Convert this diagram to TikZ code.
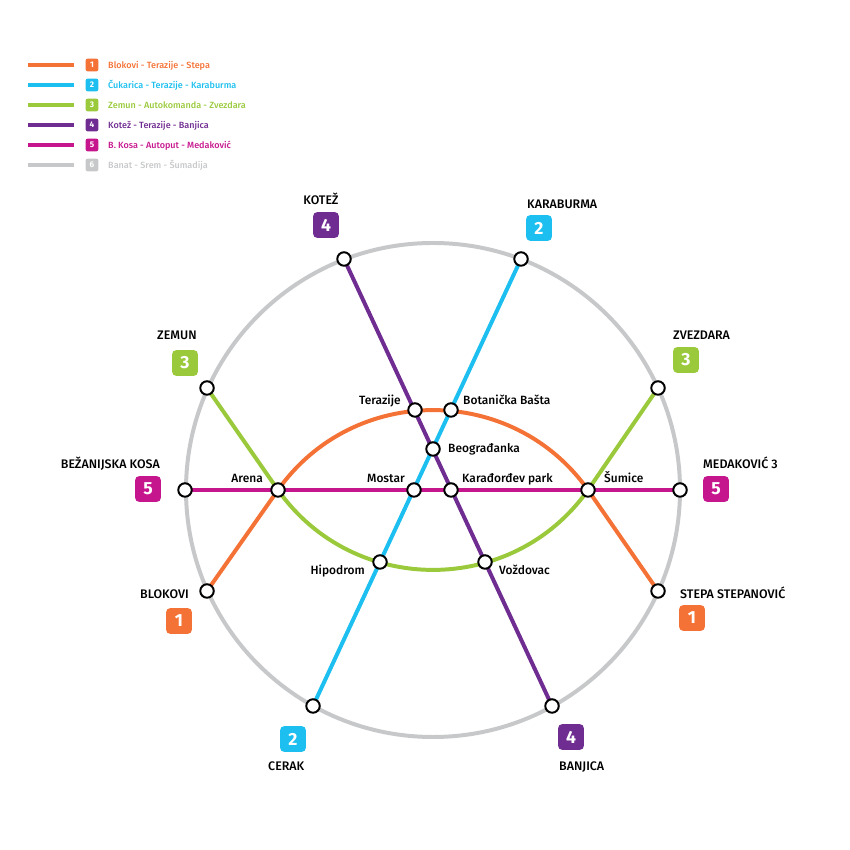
\documentclass[tikz,border=0pt]{standalone}
\usepackage{fontspec}
\setmainfont{Fira Sans}[BoldFont={Fira Sans Medium}]
\newfontfamily\digitfont{Fira Sans}
\usetikzlibrary{backgrounds}
\definecolor{lineorange}{HTML}{F47236}
\definecolor{linecyan}{HTML}{1CBFEF}
\definecolor{linegreen}{HTML}{9ACA3C}
\definecolor{linepurple}{HTML}{6F2C91}
\definecolor{linemagenta}{HTML}{C6168D}
\definecolor{linegrey}{HTML}{C7C8CA}
\tikzset{
  station/.style={circle, draw=black, fill=white, line width=1.7pt, minimum size=11.5pt, inner sep=0pt},
  metro/.style={line width=3.4pt},
  badge/.style={rounded corners=3.5pt, minimum size=22pt, inner sep=0pt, text=white, font=\fontsize{15}{15}\selectfont\digitfont\bfseries},
  keybadge/.style={rounded corners=2pt, minimum size=11pt, inner sep=0pt, text=white, font=\fontsize{7}{7}\selectfont\digitfont\bfseries},
  keytext/.style={anchor=base west, inner sep=0pt, font=\fontsize{7.7}{8}\selectfont\bfseries},
  stationtext/.style={inner sep=0pt, text=black, font=\fontsize{10.2}{11}\selectfont\bfseries},
  endtext/.style={inner sep=0pt, text=black, font=\fontsize{10.6}{11}\selectfont\bfseries},
}
\begin{document}
\begin{tikzpicture}[x=0.03cm, y=0.03cm]
    \useasboundingbox (0,0) rectangle (850,850);

    % Legend
    \foreach \row/\y/\col/\num/\txt in {
      keyone/785/lineorange/1/Blokovi - Terazije - Stepa,
      keytwo/765/linecyan/2/Čukarica - Terazije - Karaburma,
      keythree/745/linegreen/3/Zemun - Autokomanda - Zvezdara,
      keyfour/725/linepurple/4/Kotež - Terazije - Banjica,
      keyfive/705/linemagenta/5/B. Kosa - Autoput - Medaković,
      keysix/685/linegrey/6/Banat - Srem - Šumadija} {
      \coordinate (\row start) at (28,\y);
      \node[keybadge, fill=\col] (\row badge) at (92,\y) {\num};
      \coordinate (\row end) at (74,\y);
      \draw[metro, \col] (\row start) -- (\row end);
      \node[keytext, text=\col] (\row text) at (108,\y-4) {\txt};
    }

    % Inner stations
    \node[station] (terazije) at (415,440) {};
    \node[station] (botanicka) at (451,440) {};
    \node[station] (beogradjanka) at (433,401) {};
    \node[station] (mostar) at (414,360) {};
    \node[station] (karadjordjev) at (451,360) {};
    \node[station] (arena) at (278,360) {};
    \node[station] (sumice) at (588,360) {};
    \node[station] (hipodrom) at (380,288) {};
    \node[station] (vozdovac) at (485,288) {};

    % Outer stations
    \node[station] (kotez) at (344,591) {};
    \node[station] (karaburma) at (521,591) {};
    \node[station] (zemun) at (207,462) {};
    \node[station] (zvezdara) at (658,462) {};
    \node[station] (bezanija) at (185,360) {};
    \node[station] (medakovic) at (680,360) {};
    \node[station] (blokovi) at (207,259) {};
    \node[station] (stepa) at (658,259) {};
    \node[station] (cerak) at (313,144) {};
    \node[station] (banjica) at (552,144) {};

    % Lines
    \begin{scope}[on background layer]
      \draw[metro, linegrey] (433,360) circle (247);
      \draw[metro, lineorange] (blokovi.center) -- (arena.center);
      \draw[metro, lineorange] (arena.center) to[bend left=54.7, looseness=1.08] (sumice.center);
      \draw[metro, lineorange] (sumice.center) -- (stepa.center);
      \draw[metro, linegreen] (zemun.center) -- (arena.center);
      \draw[metro, linegreen] (arena.center) to[bend right=54.7, looseness=1.08] (sumice.center);
      \draw[metro, linegreen] (sumice.center) -- (zvezdara.center);
      \draw[metro, linecyan] (cerak.center) -- (karaburma.center);
      \draw[metro, linepurple] (kotez.center) -- (banjica.center);
      \draw[metro, linemagenta] (bezanija.center) -- (medakovic.center);
    \end{scope}

    % Badges
    \node[badge, fill=linepurple] (badgekotez) at (326,625) {4};
    \node[badge, fill=linecyan] (badgekaraburma) at (539,622) {2};
    \node[badge, fill=linegreen] (badgezemun) at (185,487) {3};
    \node[badge, fill=linegreen] (badgezvezdara) at (686,490) {3};
    \node[badge, fill=linemagenta] (badgebezanija) at (148,361) {5};
    \node[badge, fill=linemagenta] (badgemedakovic) at (716,361) {5};
    \node[badge, fill=lineorange] (badgeblokovi) at (179,229) {1};
    \node[badge, fill=lineorange] (badgestepa) at (692,232) {1};
    \node[badge, fill=linecyan] (badgecerak) at (293,111) {2};
    \node[badge, fill=linepurple] (badgebanjica) at (571,113) {4};

    % Terminus names
    \node[endtext, anchor=base] (namekotez) at (321,645) {KOTEŽ};
    \node[endtext, anchor=base west] (namekaraburma) at (527,641) {KARABURMA};
    \node[endtext, anchor=base west] (namezemun) at (157,510) {ZEMUN};
    \node[endtext, anchor=base west] (namezvezdara) at (673,510) {ZVEZDARA};
    \node[endtext, anchor=base east] (namebezanija) at (160,381) {BEŽANIJSKA KOSA};
    \node[endtext, anchor=base west] (namemedakovic) at (703,381) {MEDAKOVIĆ 3};
    \node[endtext, anchor=base east] (nameblokovi) at (189,251) {BLOKOVI};
    \node[endtext, anchor=base west] (namestepa) at (680,251) {STEPA STEPANOVIĆ};
    \node[endtext, anchor=base west] (namecerak) at (268,79) {CERAK};
    \node[endtext, anchor=base west] (namebanjica) at (559,79) {BANJICA};

    % Inner names
    \node[stationtext, anchor=base east] (nameterazije) at (401,445) {Terazije};
    \node[stationtext, anchor=base west] (namebotanicka) at (463,445) {Botanička Bašta};
    \node[stationtext, anchor=base west] (namebeogradjanka) at (448,397) {Beograđanka};
    \node[stationtext, anchor=base east] (namemostar) at (405,367) {Mostar};
    \node[stationtext, anchor=base west] (namekaradjordjev) at (462,367) {Karađorđev park};
    \node[stationtext, anchor=base east] (namearena) at (263,367) {Arena};
    \node[stationtext, anchor=base west] (namesumice) at (604,367) {Šumice};
    \node[stationtext, anchor=base east] (namehipodrom) at (365,275) {Hipodrom};
    \node[stationtext, anchor=base west] (namevozdovac) at (499,275) {Voždovac};
\end{tikzpicture}
\end{document}
